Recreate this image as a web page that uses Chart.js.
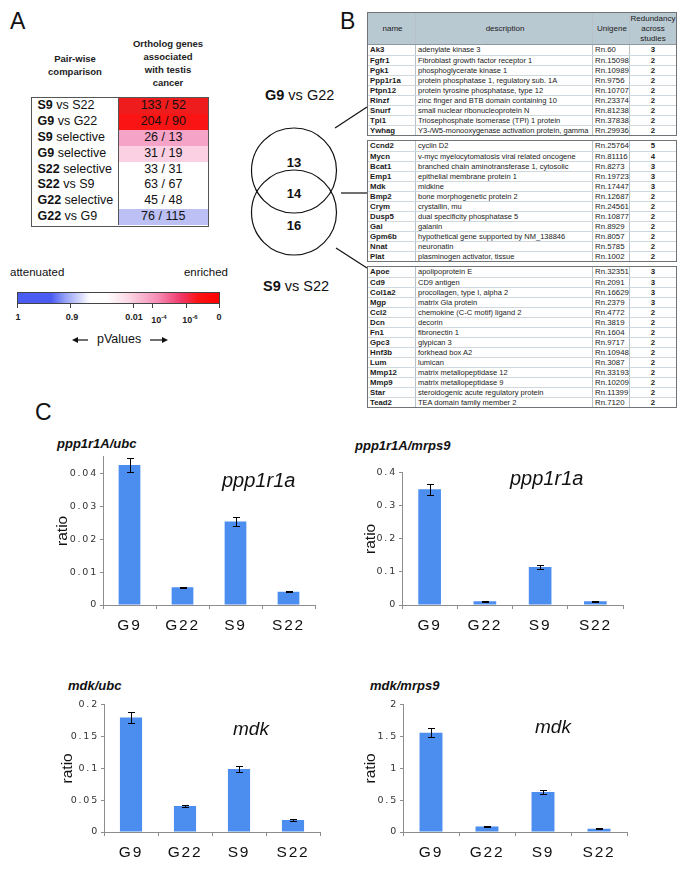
<!DOCTYPE html>
<html>
<head>
<meta charset="utf-8">
<script src="https://cdn.jsdelivr.net/npm/chart.js@4.4.1/dist/chart.umd.min.js"></script>
<style>
  body { margin: 0; background: #fff; }
  #page { position: relative; width: 685px; height: 869px; overflow: hidden; font-family: "Liberation Sans", Arial, sans-serif; color: #111; }
  .t { position: absolute; white-space: nowrap; line-height: 1; }
  .hdr { position: absolute; font-size: 9.5px; font-weight: bold; line-height: 13px; text-align: center; color: #222; }
  canvas { position: absolute; }
  #tableA { position: absolute; left: 31px; top: 97px; width: 178px; height: 130px; border: 1.5px solid #555; box-sizing: border-box; }
  .ar { display: flex; height: 15.875px; font-size: 12.5px; line-height: 15.875px; }
  .ac1 { width: 86.5px; border-right: 1px solid #555; padding-left: 5.5px; box-sizing: border-box; }
  .ac2 { flex: 1; text-align: center; }
  .gt { position: absolute; left: 367px; width: 310px; border: 1px solid #6f7478; box-sizing: border-box; font-size: 7.8px; color: #1a1a1a; }
  .gr { display: flex; height: 10px; line-height: 9px; box-sizing: border-box; border-top: 1px solid #cfd8de; }
  .gr:first-child { border-top: none; line-height: 10px; }
  .gh { display: flex; height: 31px; background: #b9c9d2; border-bottom: 1px solid #8d989e; font-size: 8px; text-align: center; }
  .gh div { display: flex; align-items: center; justify-content: center; line-height: 10px; }
  .c1, .c2, .c3, .c4 { box-sizing: border-box; overflow: hidden; white-space: nowrap; border-right: 1px solid #b7c2c8; padding-left: 2px; }
  .c1 { width: 48px; font-weight: bold; }
  .c2 { width: 177px; font-size: 7.5px; }
  .gh .c2 { font-size: 8px; }
  .c3 { width: 37px; }
  .c4 { flex: 1; border-right: none; text-align: center; font-weight: bold; padding-left: 0; }
  #pbar { position: absolute; left: 17px; top: 292px; width: 203px; height: 12px; border: 1px solid #444; box-sizing: border-box; }
  .ptk { position: absolute; font-size: 9px; font-weight: bold; line-height: 9px; transform: translateX(-50%); color: #222; }
  .ptk sup { font-size: 6px; vertical-align: 4px; }
  .gname { position: absolute; font-style: italic; line-height: 1; white-space: nowrap; }
  .ctitle { position: absolute; font-style: italic; font-weight: bold; font-size: 13px; line-height: 1; white-space: nowrap; }
</style>
</head>
<body>
<div id="page">
  <div class="t" style="left:10px;top:10px;font-size:23px">A</div>
  <div class="t" style="left:340px;top:10px;font-size:23px">B</div>
  <div class="t" style="left:35px;top:401px;font-size:23px">C</div>

  <div class="hdr" style="left:25px;top:52px;width:100px">Pair-wise<br>comparison</div>
  <div class="hdr" style="left:113px;top:37px;width:110px">Ortholog genes<br>associated<br>with testis<br>cancer</div>
  <div id="tableA"></div>

  <div class="t" style="left:10px;top:267px;font-size:11.5px">attenuated</div>
  <div class="t" style="right:457px;top:267px;font-size:11.5px">enriched</div>
  <div id="pbar"></div>
  <div id="pticks"></div>
  <div class="t" style="left:97px;top:333px;font-size:12.5px">pValues</div>

  <div class="gt" id="gt1" style="top:12px"></div>
  <div class="gt" id="gt2" style="top:140px"></div>
  <div class="gt" id="gt3" style="top:266px"></div>

  <svg width="685" height="869" style="position:absolute;left:0;top:0">
    <g fill="none" stroke="#111" stroke-width="1.2">
      <circle cx="294" cy="170.5" r="42.5"/>
      <circle cx="294" cy="212.5" r="42.5"/>
      <line x1="335" y1="128" x2="367" y2="107"/>
      <line x1="341" y1="193" x2="367" y2="193"/>
      <line x1="336" y1="248" x2="367" y2="268"/>
      <line x1="77" y1="340" x2="88" y2="340"/>
      <line x1="150" y1="340" x2="163" y2="340"/>
    </g>
    <polygon points="72,340 78,337 78,343" fill="#111"/>
    <polygon points="168,340 162,337 162,343" fill="#111"/>
    <g font-family="Liberation Sans, Arial, sans-serif" font-size="13" font-weight="bold" text-anchor="middle" fill="#111">
      <text x="294" y="167">13</text>
      <text x="294" y="198">14</text>
      <text x="294" y="230">16</text>
    </g>
    <g font-family="Liberation Sans, Arial, sans-serif" font-size="14.5" fill="#111">
      <text x="265" y="100"><tspan font-weight="bold">G9</tspan> vs G22</text>
      <text x="263" y="291"><tspan font-weight="bold">S9</tspan> vs S22</text>
    </g>
  </svg>

  <div class="ctitle" style="left:57px;top:437px">ppp1r1A/ubc</div>
  <div class="ctitle" style="left:355px;top:439px">ppp1r1A/mrps9</div>
  <div class="ctitle" style="left:68px;top:679px">mdk/ubc</div>
  <div class="ctitle" style="left:370px;top:679px">mdk/mrps9</div>

  <canvas id="c1" width="270" height="188" style="left:50px;top:449px"></canvas>
  <canvas id="c2" width="279" height="172" style="left:349px;top:465px"></canvas>
  <canvas id="c3" width="274" height="167" style="left:51px;top:697px"></canvas>
  <canvas id="c4" width="282" height="167" style="left:350px;top:697px"></canvas>

  <div class="gname" style="left:222px;top:470px;font-size:20px">ppp1r1a</div>
  <div class="gname" style="left:510px;top:468px;font-size:20px">ppp1r1a</div>
  <div class="gname" style="left:233px;top:719px;font-size:19px">mdk</div>
  <div class="gname" style="left:535px;top:717px;font-size:19px">mdk</div>
</div>

<script>
// Panel A: pair-wise comparisons
const comparisonBold = ['S9', 'G9', 'S9', 'G9', 'S22', 'S22', 'G22', 'G22'];
const comparisonRest = [' vs S22', ' vs G22', ' selective', ' selective', ' selective', ' vs S9', ' selective', ' vs G9'];
const orthologCounts = ['133 / 52', '204 / 90', '26 / 13', '31 / 19', '33 / 31', '63 / 67', '45 / 48', '76 / 115'];
const pValueColors = ['#ee1c1c', '#fb1414', '#f5a3c7', '#fbd0e2', '#ffffff', '#ffffff', '#ffffff', '#bcc0f4'];

// pValue colour scale labels
const pTickText = ['1', '0.9', '0.01', '10', '10', '0'];
const pTickExp = ['', '', '', '-4', '-6', ''];
const pTickX = [18, 72, 134, 159, 190, 219];
const pMarkX = [17, 70, 133, 152, 186, 219];

// Panel B: gene tables (name, description, unigene, redundancy)
const genesTop = [
  ['Ak3', 'adenylate kinase 3', 'Rn.60', 3],
  ['Fgfr1', 'Fibroblast growth factor receptor 1', 'Rn.15098', 2],
  ['Pgk1', 'phosphoglycerate kinase 1', 'Rn.10989', 2],
  ['Ppp1r1a', 'protein phosphatase 1, regulatory sub. 1A', 'Rn.9756', 2],
  ['Ptpn12', 'protein tyrosine phosphatase, type 12', 'Rn.10707', 2],
  ['Rinzf', 'zinc finger and BTB domain containing 10', 'Rn.23374', 2],
  ['Snurf', 'small nuclear ribonucleoprotein N', 'Rn.81238', 2],
  ['Tpi1', 'Triosephosphate isomerase (TPI) 1 protein', 'Rn.37838', 2],
  ['Ywhag', 'Y3-/W5-monooxygenase activation protein, gamma', 'Rn.29936', 2]
];
const genesShared = [
  ['Ccnd2', 'cyclin D2', 'Rn.25764', 5],
  ['Mycn', 'v-myc myelocytomatosis viral related oncogene', 'Rn.81116', 4],
  ['Bcat1', 'branched chain aminotransferase 1, cytosolic', 'Rn.8273', 3],
  ['Emp1', 'epithelial membrane protein 1', 'Rn.19723', 3],
  ['Mdk', 'midkine', 'Rn.17447', 3],
  ['Bmp2', 'bone morphogenetic protein 2', 'Rn.12687', 2],
  ['Crym', 'crystallin, mu', 'Rn.24561', 2],
  ['Dusp5', 'dual specificity phosphatase 5', 'Rn.10877', 2],
  ['Gal', 'galanin', 'Rn.8929', 2],
  ['Gpm6b', 'hypothetical gene supported by NM_138846', 'Rn.8057', 2],
  ['Nnat', 'neuronatin', 'Rn.5785', 2],
  ['Plat', 'plasminogen activator, tissue', 'Rn.1002', 2]
];
const genesBottom = [
  ['Apoe', 'apolipoprotein E', 'Rn.32351', 3],
  ['Cd9', 'CD9 antigen', 'Rn.2091', 3],
  ['Col1a2', 'procollagen, type I, alpha 2', 'Rn.16629', 3],
  ['Mgp', 'matrix Gla protein', 'Rn.2379', 3],
  ['Ccl2', 'chemokine (C-C motif) ligand 2', 'Rn.4772', 2],
  ['Dcn', 'decorin', 'Rn.3819', 2],
  ['Fn1', 'fibronectin 1', 'Rn.1604', 2],
  ['Gpc3', 'glypican 3', 'Rn.9717', 2],
  ['Hnf3b', 'forkhead box A2', 'Rn.10948', 2],
  ['Lum', 'lumican', 'Rn.3087', 2],
  ['Mmp12', 'matrix metallopeptidase 12', 'Rn.33193', 2],
  ['Mmp9', 'matrix metallopeptidase 9', 'Rn.10209', 2],
  ['Star', 'steroidogenic acute regulatory protein', 'Rn.11399', 2],
  ['Tead2', 'TEA domain family member 2', 'Rn.7120', 2]
];

// Panel C: qPCR ratios
const samples = ['G9', 'G22', 'S9', 'S22'];
const ppp1r1aUbc = [0.0425, 0.0054, 0.0253, 0.0040];
const ppp1r1aUbcErr = [0.0021, 0.0002, 0.0013, 0.0001];
const ppp1r1aMrps9 = [0.350, 0.011, 0.115, 0.011];
const ppp1r1aMrps9Err = [0.017, 0.0005, 0.005, 0.0005];
const mdkUbc = [0.180, 0.041, 0.099, 0.019];
const mdkUbcErr = [0.008, 0.002, 0.004, 0.001];
const mdkMrps9 = [1.56, 0.085, 0.63, 0.05];
const mdkMrps9Err = [0.07, 0.004, 0.03, 0.008];
const ticksPppUbc = [0, 0.01, 0.02, 0.03, 0.04];
const ticksPppMrps9 = [0, 0.1, 0.2, 0.3, 0.4];
const ticksMdkUbc = [0, 0.05, 0.1, 0.15, 0.2];
const ticksMdkMrps9 = [0, 0.5, 1, 1.5, 2];

const barColor = '#4b8ef0';
const axisColor = '#8c8c8c';

// ---- panel A table ----
const tableA = document.getElementById('tableA');
comparisonBold.forEach((b, i) => {
  const row = document.createElement('div');
  row.className = 'ar';
  row.innerHTML = '<div class="ac1"><b>' + b + '</b>' + comparisonRest[i] + '</div>' +
    '<div class="ac2" style="background:' + pValueColors[i] + '">' + orthologCounts[i] + '</div>';
  tableA.appendChild(row);
});

// colour bar
document.getElementById('pbar').style.background =
  'linear-gradient(to right, #4a5cf2 0px, #4a5cf2 33px, #8f9bf6 46px, #ffffff 72px, #ffffff 88px, #fbd9e6 110px, #f68cb4 140px, #f0386a 163px, #fa1414 180px, #ff0000 201px)';
const pticks = document.getElementById('pticks');
pTickText.forEach((txt, i) => {
  const d = document.createElement('div');
  d.className = 'ptk';
  d.style.left = pTickX[i] + 'px';
  d.style.top = '313px';
  d.innerHTML = txt + (pTickExp[i] ? '<sup>' + pTickExp[i] + '</sup>' : '');
  pticks.appendChild(d);
  const m = document.createElement('div');
  m.style.cssText = 'position:absolute;width:1px;height:4px;background:#444;top:304px;left:' + pMarkX[i] + 'px';
  pticks.appendChild(m);
});

// ---- gene tables ----
function fillGenes(id, rows, withHeader) {
  const el = document.getElementById(id);
  let html = '';
  if (withHeader) {
    html += '<div class="gh"><div class="c1" style="font-weight:normal">name</div><div class="c2">description</div>' +
      '<div class="c3">Unigene</div><div class="c4" style="font-weight:normal">Redundancy<br>across<br>studies</div></div>';
  }
  html += '<div>';
  rows.forEach(r => {
    html += '<div class="gr"><div class="c1">' + r[0] + '</div><div class="c2">' + r[1] + '</div>' +
      '<div class="c3">' + r[2] + '</div><div class="c4">' + r[3] + '</div></div>';
  });
  html += '</div>';
  el.innerHTML = html;
}
fillGenes('gt1', genesTop, true);
fillGenes('gt2', genesShared, false);
fillGenes('gt3', genesBottom, false);

// ---- charts ----
const errorBars = {
  id: 'errorBars',
  afterDatasetsDraw(chart) {
    const ctx = chart.ctx;
    const ds = chart.data.datasets[0];
    const y = chart.scales.y;
    ctx.save();
    ctx.strokeStyle = '#000';
    ctx.lineWidth = 1;
    chart.getDatasetMeta(0).data.forEach((bar, i) => {
      const x = Math.round(bar.x) + 0.5;
      const hi = Math.round(y.getPixelForValue(ds.data[i] + ds.errors[i])) + 0.5;
      const lo = Math.round(y.getPixelForValue(ds.data[i] - ds.errors[i])) + 0.5;
      ctx.beginPath();
      ctx.moveTo(x, hi); ctx.lineTo(x, lo);
      ctx.moveTo(x - 3.5, hi); ctx.lineTo(x + 3.5, hi);
      ctx.moveTo(x - 3.5, lo); ctx.lineTo(x + 3.5, lo);
      ctx.stroke();
    });
    ctx.restore();
  }
};

// spaced-out tick lettering like the original, but a plain "ratio" title
const spacedText = {
  id: 'spacedText',
  afterUpdate(chart) {
    const y = chart.scales.y;
    if (!y._plainTitle) {
      const drawTitle = y.drawTitle.bind(y);
      y.drawTitle = function () {
        const c = this.ctx;
        const ls = c.letterSpacing;
        c.letterSpacing = '0px';
        drawTitle();
        c.letterSpacing = ls;
      };
      y._plainTitle = true;
    }
  },
  beforeDraw(chart) { chart.ctx.letterSpacing = '1.8px'; },
  beforeDatasetsDraw(chart) { chart.ctx.letterSpacing = '0px'; }
};

function makeChart(id, values, errors, ticks, max, titlePad) {
  return new Chart(document.getElementById(id), {
    type: 'bar',
    data: {
      labels: samples,
      datasets: [{ data: values, errors: errors, backgroundColor: barColor, barPercentage: 0.41, categoryPercentage: 1 }]
    },
    options: {
      responsive: false,
      animation: false,
      devicePixelRatio: 1,
      layout: { padding: { top: 5, right: 5, left: 0, bottom: 0 } },
      plugins: { legend: { display: false }, tooltip: { enabled: false } },
      scales: {
        x: {
          offset: true,
          grid: { offset: true, drawOnChartArea: false, tickLength: 4, color: axisColor },
          border: { color: axisColor },
          ticks: { font: { size: 15.5, family: 'Liberation Sans' }, color: '#111', padding: 7, maxRotation: 0, autoSkip: false },
          afterFit: s => { s.height = 32; }
        },
        y: {
          min: 0,
          max: max,
          afterBuildTicks: s => { s.ticks = ticks.map(v => ({ value: v })); },
          grid: { drawOnChartArea: false, tickLength: 3, color: axisColor },
          border: { color: axisColor },
          ticks: { font: { size: 9.5, family: 'DejaVu Sans' }, color: '#333', padding: 2, callback: v => String(v) },
          title: { display: true, text: 'ratio', font: { size: 15.5, family: 'Liberation Sans' }, color: '#111', padding: { top: titlePad, bottom: 0 } },
          afterFit: s => { s.width = 53; }
        }
      }
    },
    plugins: [spacedText, errorBars]
  });
}

makeChart('c1', ppp1r1aUbc, ppp1r1aUbcErr, ticksPppUbc, 0.045, 3);
makeChart('c2', ppp1r1aMrps9, ppp1r1aMrps9Err, ticksPppMrps9, 0.4, 12);
makeChart('c3', mdkUbc, mdkUbcErr, ticksMdkUbc, 0.2, 7);
makeChart('c4', mdkMrps9, mdkMrps9Err, ticksMdkMrps9, 2, 11);
</script>
</body>
</html>
